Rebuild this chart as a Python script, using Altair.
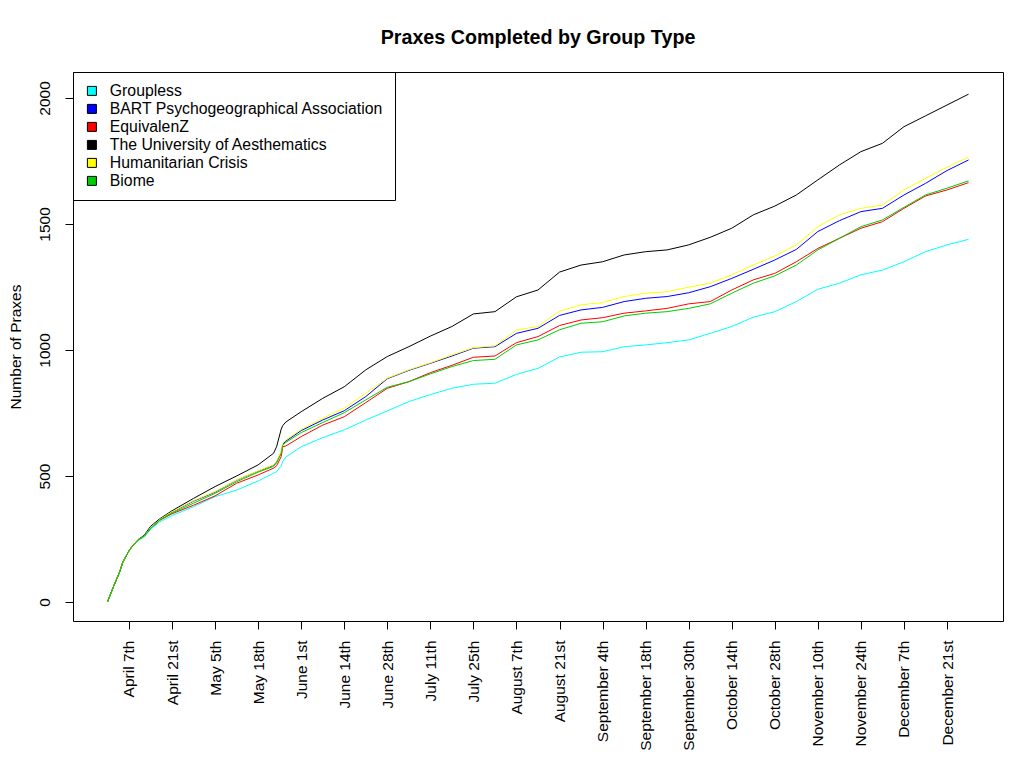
import altair as alt
import pandas as pd

series_names = ["Groupless", "BART Psychogeographical Association", "EquivalenZ",
                "The University of Aesthematics", "Humanitarian Crisis", "Biome"]
series_colors = ["#00FFFF", "#0000FF", "#FF0000", "#000000", "#FFFF00", "#00CD00"]

day_index = [0, 2, 4, 5, 7, 8, 10, 12, 14, 17, 21, 28, 35, 42, 49, 54, 55, 56.5, 57, 58,
             63, 70, 77, 84, 91, 98, 105, 112, 119, 126, 133, 140, 147, 154, 161, 168, 175,
             182, 189, 196, 203, 210, 217, 224, 231, 238, 245, 252, 259, 266, 273, 280]

groupless = [0, 62, 120, 158, 203, 220, 244, 258, 288, 318, 343, 378, 418, 444, 480,
             511, 517, 540, 557, 575,
             616, 652, 683, 722, 758, 795, 823, 848, 864, 868, 903, 927, 972, 991, 993, 1013,
             1020, 1029, 1040, 1066, 1093, 1130, 1152, 1192, 1241, 1265, 1298, 1317, 1350,
             1390, 1417, 1439]
bart = [0, 62, 120, 158, 203, 220, 246, 262, 292, 326, 357, 400, 436, 483, 519,
        542, 555, 593, 625, 638,
        680, 722, 759, 815, 886, 919, 947, 976, 1007, 1013, 1066, 1086, 1137, 1159, 1169, 1192,
        1205, 1212, 1227, 1251, 1284, 1320, 1357, 1399, 1470, 1513, 1549, 1562, 1615, 1661,
        1712, 1754]
equivalenz = [0, 62, 120, 158, 203, 220, 246, 262, 292, 324, 350, 384, 421, 471, 504,
              531, 540, 577, 616, 619,
              656, 702, 735, 791, 848, 874, 910, 939, 971, 976, 1029, 1053, 1097, 1119, 1128,
              1146, 1155, 1165, 1183, 1192, 1238, 1278, 1304, 1350, 1403, 1443, 1483, 1509,
              1562, 1611, 1635, 1664]
aesthematics = [0, 62, 120, 158, 203, 220, 248, 265, 300, 330, 362, 411, 458, 500, 544,
                590, 616, 686, 700, 714,
                755, 808, 854, 921, 974, 1013, 1055, 1093, 1143, 1152, 1211, 1238, 1309, 1337,
                1350, 1377, 1390, 1397, 1417, 1447, 1483, 1536, 1571, 1615, 1675, 1734, 1787,
                1820, 1886, 1929, 1972, 2015]
humanitarian = [0, 62, 120, 158, 203, 220, 246, 262, 294, 327, 358, 402, 438, 484, 520,
                544, 557, 596, 630, 643,
                685, 729, 769, 828, 888, 921, 949, 980, 1009, 1016, 1079, 1093, 1154, 1179,
                1188, 1212, 1225, 1231, 1249, 1265, 1298, 1337, 1373, 1417, 1489, 1536, 1562,
                1575, 1635, 1681, 1725, 1765]
biome = [0, 62, 120, 158, 203, 220, 246, 262, 292, 325, 353, 392, 431, 477, 515,
         538, 552, 590, 622, 633,
         672, 712, 751, 802, 852, 874, 905, 934, 958, 963, 1020, 1040, 1080, 1106, 1112, 1135,
         1146, 1152, 1165, 1183, 1225, 1265, 1294, 1337, 1397, 1443, 1489, 1516, 1566, 1615,
         1642, 1671]

tick_index = [7, 21, 35, 49, 63, 77, 91, 105, 119, 133, 147, 161, 175, 189, 203, 217,
              231, 245, 259, 273]
tick_labels = ["April 7th", "April 21st", "May 5th", "May 18th", "June 1st", "June 14th",
               "June 28th", "July 11th", "July 25th", "August 7th", "August 21st",
               "September 4th", "September 18th", "September 30th", "October 14th",
               "October 28th", "November 10th", "November 24th", "December 7th",
               "December 21st"]
y_ticks = [0, 500, 1000, 1500, 2000]

all_series = [groupless, bart, equivalenz, aesthematics, humanitarian, biome]
rows = []
for name, col, vals in zip(series_names, series_colors, all_series):
    for u, v in zip(day_index, vals):
        rows.append({"series": name, "col": col, "u": u, "v": v})
df = pd.DataFrame(rows)

label_expr = "''"
for t, lab in reversed(list(zip(tick_index, tick_labels))):
    label_expr = f"datum.value == {t} ? '{lab}' : ({label_expr})"

FONT = "Liberation Sans"

x_enc = alt.X("u:Q", scale=alt.Scale(domain=[-11.2, 291.2], nice=False, zero=False),
              axis=alt.Axis(values=tick_index, labelExpr=label_expr, labelAngle=-90,
                            labelAlign="right", labelBaseline="middle", labelPadding=11,
                            tickSize=8, title=None, labelOverlap=False, labelBound=False,
                            labelFlush=False))
y_enc = alt.Y("v:Q", scale=alt.Scale(domain=[-75.5, 2103], nice=False, zero=False),
              axis=alt.Axis(values=y_ticks, format="d", labelAngle=-90, labelAlign="center",
                            labelBaseline="alphabetic", labelPadding=16, tickSize=8,
                            title="Number of Praxes", titleAngle=-90, titleX=-53,
                            titleY=274.5, titleAlign="center", titleBaseline="alphabetic",
                            titleFontWeight="normal", titleFontSize=15.5, titleFont=FONT,
                            titleColor="black", labelOverlap=False, labelFlush=False))

lines = alt.Chart(df).mark_line(strokeWidth=1, interpolate="linear").encode(
    x=x_enc,
    y=y_enc,
    color=alt.Color("col:N", scale=None),
    detail="series:N",
)

squares = alt.Chart(df).transform_filter("datum.u == 0").mark_square(
    size=0, filled=True).encode(
    x=alt.X("u:Q"),
    y=alt.Y("v:Q"),
    fill=alt.Fill("series:N", scale=alt.Scale(domain=series_names, range=series_colors),
                  legend=alt.Legend(title=None, orient="none", legendX=0, legendY=0,
                                    fillColor="white", strokeColor="black", padding=11,
                                    labelFontSize=15.8, labelFont=FONT, labelColor="black",
                                    symbolSize=81, symbolType="square", symbolOffset=0,
                                    symbolStrokeColor="black", symbolStrokeWidth=1,
                                    rowPadding=1, labelOffset=10, labelLimit=0,
                                    cornerRadius=0, symbolOpacity=1)),
)

chart = alt.layer(lines, squares).properties(
    width=930, height=549,
    padding={"left": 65, "top": 64, "right": 13, "bottom": 139},
    autosize=alt.AutoSizeParams(type="none"),
    background="white",
    title=alt.TitleParams("Praxes Completed by Group Type", fontSize=19.7, fontWeight="bold",
                          font=FONT, color="black", anchor="middle", baseline="alphabetic",
                          offset=8, frame="group"),
).configure_view(stroke="black", strokeWidth=1).configure_axis(
    domain=False, grid=False, tickColor="black", labelColor="black", labelFont=FONT,
    labelFontSize=15.5, tickWidth=1,
)

chart.save("out.html", embed_options={"renderer": "svg", "actions": False})
